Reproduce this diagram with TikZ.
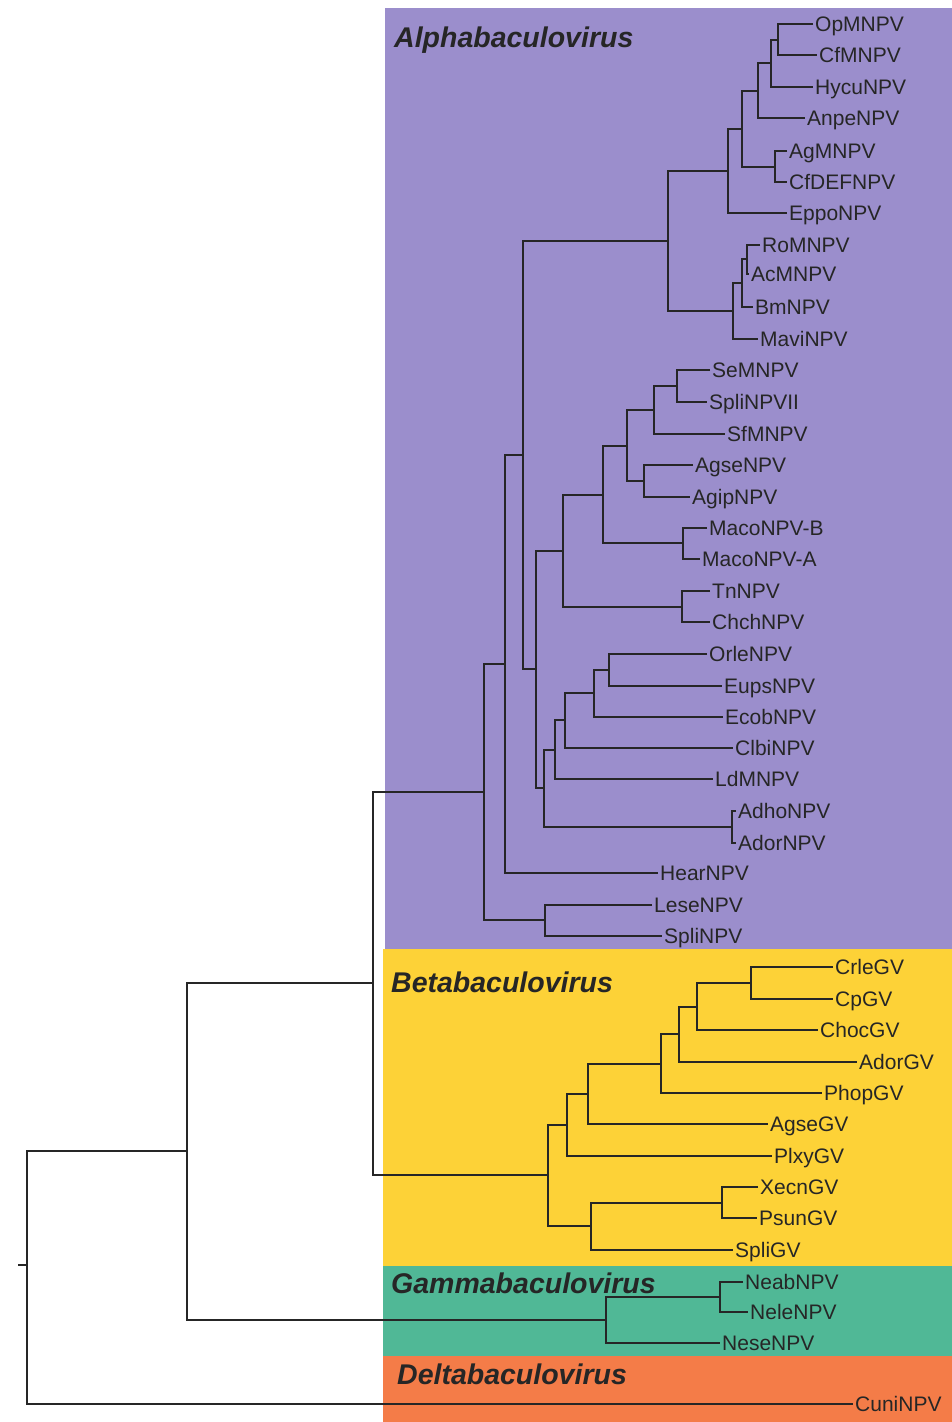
\documentclass[tikz,border=0pt]{standalone}
\usepackage{fontspec}
\setmainfont{Liberation Sans}
\definecolor{alphacol}{RGB}{155,142,204}
\definecolor{betacol}{RGB}{253,210,55}
\definecolor{gammacol}{RGB}{80,184,150}
\definecolor{deltacol}{RGB}{244,124,72}

\begin{document}
\begin{tikzpicture}[x=1pt, y=-1pt,
    branch/.style={draw=black!85, line width=1.15pt},
    leaf/.style={anchor=west, inner xsep=2pt, inner ysep=0pt, text height=15pt, text depth=0pt, text=black!85, font=\fontsize{21}{24}\selectfont},
    genus/.style={anchor=west, inner sep=0pt, text=black!85, font=\fontsize{28.5}{32}\selectfont\bfseries\itshape}]
    \useasboundingbox (0,0) rectangle (952,1422);
    % coloured genus panels
    \fill[alphacol] (385,8) rectangle (952,949);
    \fill[betacol] (383,949) rectangle (952,1266);
    \fill[gammacol] (383,1266) rectangle (952,1356);
    \fill[deltacol] (383,1356) rectangle (952,1422);
    \node[genus] (alphalab) at (394,40) {Alphabaculovirus};
    \node[genus] (betalab) at (391,982) {Betabaculovirus};
    \node[genus] (gammalab) at (391,1283) {Gammabaculovirus};
    \node[genus] (deltalab) at (397,1374) {Deltabaculovirus};

    % Alphabaculovirus, group I
    \node[leaf] (op) at (813,24) {OpMNPV};
    \node[leaf] (cf) at (817,55) {CfMNPV};
    \node[leaf] (hycu) at (813,87) {HycuNPV};
    \node[leaf] (anpe) at (805,118) {AnpeNPV};
    \node[leaf] (ag) at (787,151) {AgMNPV};
    \node[leaf] (cfdef) at (787,182) {CfDEFNPV};
    \node[leaf] (eppo) at (787,213) {EppoNPV};
    \node[leaf] (ro) at (760,245) {RoMNPV};
    \node[leaf] (ac) at (749,274) {AcMNPV};
    \node[leaf] (bm) at (753,307) {BmNPV};
    \node[leaf] (mavi) at (758,339) {MaviNPV};
    \coordinate (nopcf) at (778,40);
    \coordinate (nhycu) at (771,63);
    \coordinate (nanpe) at (758,91);
    \coordinate (nagcf) at (775,167);
    \coordinate (nanag) at (742,129);
    \coordinate (neppo) at (728,171);
    \coordinate (nroac) at (747,259);
    \coordinate (nrobm) at (742,283);
    \coordinate (nmavi) at (733,311);
    \coordinate (ngone) at (668,241);
    \draw[branch] (op) -| (nopcf) |- (cf);
    \draw[branch] (nopcf) -| (nhycu) |- (hycu);
    \draw[branch] (nhycu) -| (nanpe) |- (anpe);
    \draw[branch] (ag) -| (nagcf) |- (cfdef);
    \draw[branch] (nanpe) -| (nanag) |- (nagcf);
    \draw[branch] (nanag) -| (neppo) |- (eppo);
    \draw[branch] (ro) -| (nroac) |- (ac);
    \draw[branch] (nroac) -| (nrobm) |- (bm);
    \draw[branch] (nrobm) -| (nmavi) |- (mavi);
    \draw[branch] (neppo) -| (ngone) |- (nmavi);

    % Alphabaculovirus, group II
    \node[leaf] (se) at (710,370) {SeMNPV};
    \node[leaf] (splitwo) at (707,402) {SpliNPVII};
    \node[leaf] (sf) at (725,434) {SfMNPV};
    \node[leaf] (agse) at (693,465) {AgseNPV};
    \node[leaf] (agip) at (690,497) {AgipNPV};
    \node[leaf] (macob) at (707,528) {MacoNPV-B};
    \node[leaf] (macoa) at (700,559) {MacoNPV-A};
    \node[leaf] (tn) at (710,591) {TnNPV};
    \node[leaf] (chch) at (710,622) {ChchNPV};
    \node[leaf] (orle) at (707,654) {OrleNPV};
    \node[leaf] (eups) at (722,686) {EupsNPV};
    \node[leaf] (ecob) at (723,717) {EcobNPV};
    \node[leaf] (clbi) at (733,748) {ClbiNPV};
    \node[leaf] (ld) at (713,779) {LdMNPV};
    \node[leaf] (adho) at (736,811) {AdhoNPV};
    \node[leaf] (ador) at (736,843) {AdorNPV};
    \node[leaf] (hear) at (658,873) {HearNPV};
    \node[leaf] (lese) at (652,905) {LeseNPV};
    \node[leaf] (spli) at (662,936) {SpliNPV};
    \coordinate (nsesp) at (677,386);
    \coordinate (nsf) at (654,410);
    \coordinate (nagag) at (644,481);
    \coordinate (nsfag) at (627,446);
    \coordinate (nmaco) at (683,543);
    \coordinate (nsfmaco) at (603,495);
    \coordinate (ntnch) at (682,607);
    \coordinate (ngtwo) at (563,551);
    \coordinate (norle) at (609,670);
    \coordinate (necob) at (594,693);
    \coordinate (nclbi) at (565,720);
    \coordinate (nld) at (555,750);
    \coordinate (nadad) at (732,827);
    \coordinate (ngthree) at (544,788);
    \coordinate (ntwothree) at (536,669);
    \coordinate (nnpv) at (523,455);
    \coordinate (nhear) at (505,664);
    \coordinate (nlese) at (545,920);
    \coordinate (nalpha) at (484,792);
    \draw[branch] (se) -| (nsesp) |- (splitwo);
    \draw[branch] (nsesp) -| (nsf) |- (sf);
    \draw[branch] (agse) -| (nagag) |- (agip);
    \draw[branch] (nsf) -| (nsfag) |- (nagag);
    \draw[branch] (macob) -| (nmaco) |- (macoa);
    \draw[branch] (nsfag) -| (nsfmaco) |- (nmaco);
    \draw[branch] (tn) -| (ntnch) |- (chch);
    \draw[branch] (nsfmaco) -| (ngtwo) |- (ntnch);
    \draw[branch] (orle) -| (norle) |- (eups);
    \draw[branch] (norle) -| (necob) |- (ecob);
    \draw[branch] (necob) -| (nclbi) |- (clbi);
    \draw[branch] (nclbi) -| (nld) |- (ld);
    \draw[branch] (adho) -| (nadad) |- (ador);
    \draw[branch] (nld) -| (ngthree) |- (nadad);
    \draw[branch] (ngtwo) -| (ntwothree) |- (ngthree);
    \draw[branch] (ngone) -| (nnpv) |- (ntwothree);
    \draw[branch] (nnpv) -| (nhear) |- (hear);
    \draw[branch] (lese) -| (nlese) |- (spli);
    \draw[branch] (nhear) -| (nalpha) |- (nlese);

    % Betabaculovirus
    \node[leaf] (crle) at (833,967) {CrleGV};
    \node[leaf] (cp) at (833,999) {CpGV};
    \node[leaf] (choc) at (818,1030) {ChocGV};
    \node[leaf] (adorgv) at (857,1062) {AdorGV};
    \node[leaf] (phop) at (822,1093) {PhopGV};
    \node[leaf] (agsegv) at (768,1124) {AgseGV};
    \node[leaf] (plxy) at (772,1156) {PlxyGV};
    \node[leaf] (xecn) at (758,1187) {XecnGV};
    \node[leaf] (psun) at (757,1218) {PsunGV};
    \node[leaf] (spligv) at (733,1250) {SpliGV};
    \coordinate (ncrcp) at (751,983);
    \coordinate (nchoc) at (697,1007);
    \coordinate (nadorgv) at (679,1034);
    \coordinate (nphop) at (661,1064);
    \coordinate (nagsegv) at (588,1094);
    \coordinate (nplxy) at (567,1125);
    \coordinate (nxeps) at (722,1203);
    \coordinate (nspligv) at (591,1226);
    \coordinate (nbeta) at (548,1175);
    \draw[branch] (crle) -| (ncrcp) |- (cp);
    \draw[branch] (ncrcp) -| (nchoc) |- (choc);
    \draw[branch] (nchoc) -| (nadorgv) |- (adorgv);
    \draw[branch] (nadorgv) -| (nphop) |- (phop);
    \draw[branch] (nphop) -| (nagsegv) |- (agsegv);
    \draw[branch] (nagsegv) -| (nplxy) |- (plxy);
    \draw[branch] (xecn) -| (nxeps) |- (psun);
    \draw[branch] (nxeps) -| (nspligv) |- (spligv);
    \draw[branch] (nplxy) -| (nbeta) |- (nspligv);

    % Gammabaculovirus and Deltabaculovirus
    \node[leaf] (neab) at (743,1282) {NeabNPV};
    \node[leaf] (nele) at (748,1312) {NeleNPV};
    \node[leaf] (nese) at (720,1343) {NeseNPV};
    \node[leaf] (cuni) at (853,1404) {CuniNPV};
    \coordinate (nneab) at (720,1297);
    \coordinate (ngamma) at (606,1320);
    \draw[branch] (neab) -| (nneab) |- (nele);
    \draw[branch] (nneab) -| (ngamma) |- (nese);

    % deep splits and root
    \coordinate (nab) at (373,983);
    \coordinate (nabg) at (187,1151);
    \coordinate (nroot) at (27,1265);
    \coordinate (stub) at (18,1265);
    \draw[branch] (nalpha) -| (nab) |- (nbeta);
    \draw[branch] (nab) -| (nabg) |- (ngamma);
    \draw[branch] (nabg) -| (nroot) |- (cuni);
    \draw[branch] (stub) -- (nroot);
\end{tikzpicture}
\end{document}
